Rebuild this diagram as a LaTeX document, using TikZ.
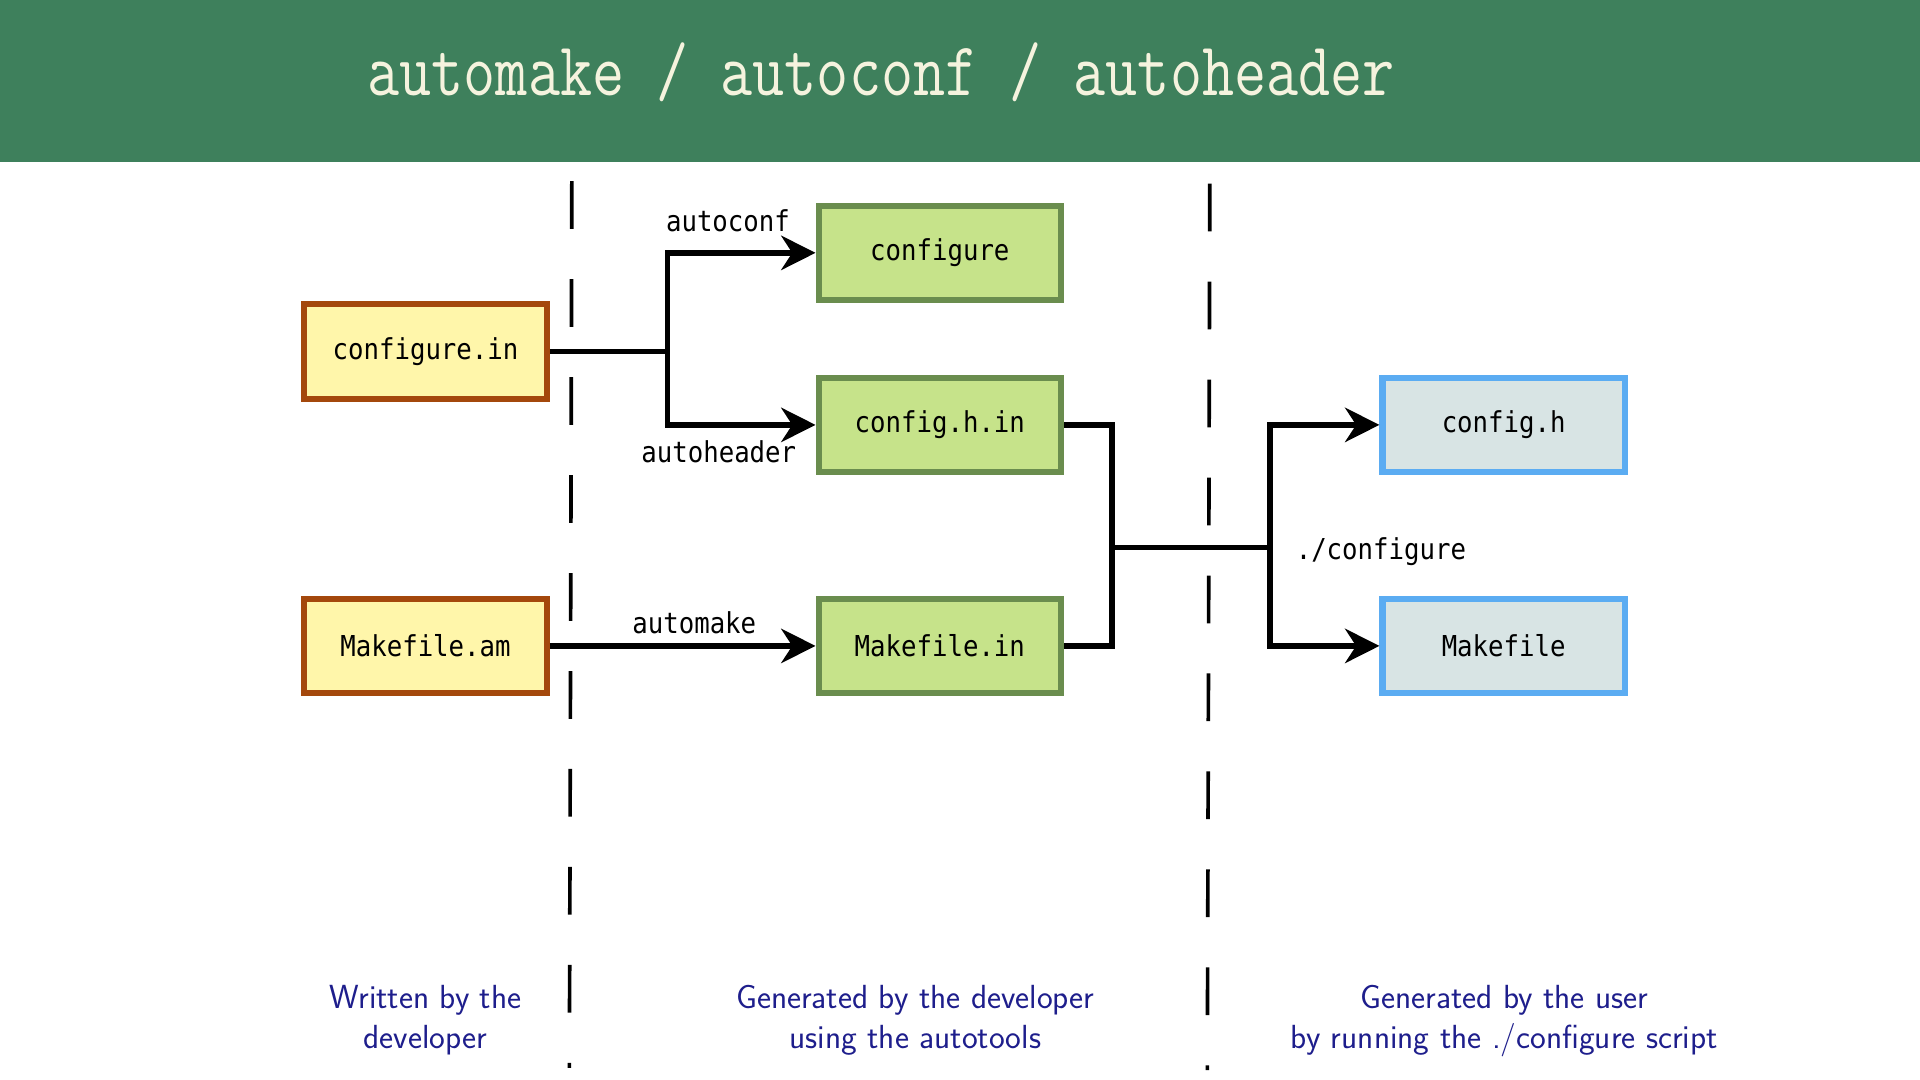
\documentclass[tikz,border=0pt]{standalone}
\usepackage{fontspec}
\usepackage{graphicx}
\newfontfamily\boxfont{DejaVu Sans Mono}
\newcommand{\mono}[1]{\scalebox{1}[1.12]{#1}}
\usetikzlibrary{arrows.meta}
\definecolor{headgreen}{RGB}{62,128,92}
\definecolor{titlecream}{RGB}{245,243,222}
\definecolor{srcfill}{RGB}{255,246,170}
\definecolor{srcdraw}{RGB}{164,72,12}
\definecolor{genfill}{RGB}{198,227,138}
\definecolor{gendraw}{RGB}{106,141,78}
\definecolor{usrfill}{RGB}{216,228,228}
\definecolor{usrdraw}{RGB}{91,172,242}
\definecolor{capblue}{RGB}{30,30,140}
\tikzset{
	file/.style={line width=5pt,minimum width=198pt,minimum height=77pt,inner sep=0pt,font=\boxfont\fontsize{21}{25}\selectfont},
	srcfile/.style={file,draw=srcdraw,fill=srcfill},
	genfile/.style={file,draw=gendraw,fill=genfill},
	usrfile/.style={file,draw=usrdraw,fill=usrfill},
	tool/.style={font=\boxfont\fontsize{21}{25}\selectfont,inner sep=0pt,anchor=base},
	wire/.style={line width=4.6pt},
	flow/.style={wire,-{Stealth[length=28pt,width=28pt,inset=9pt]}},
	border/.style={line width=3pt,dash pattern=on 39pt off 41pt},
	caption/.style={text=capblue,font=\sffamily\fontsize{27.3}{32}\selectfont,align=center,anchor=base,inner sep=0pt}
}
\begin{document}
\begin{tikzpicture}[x=1pt,y=-1pt]
			\useasboundingbox (0,0) rectangle (1568,882);
			\fill[white] (0,0) rectangle (1568,882);
			\fill[headgreen] (0,0) rectangle (1568,132);
			\node[anchor=base west,inner sep=0pt,text=titlecream,font=\ttfamily\fontsize{50.9}{60}\selectfont] (title) at (300,78) {\scalebox{1}[1.22]{automake / autoconf / autoheader}};
			% the two borders between the stages
			\coordinate (leftTop) at (467,148);
			\coordinate (leftBot) at (465,872);
			\coordinate (rightTop) at (988,150);
			\coordinate (rightBot) at (986,874);
			\draw[border] (leftTop) -- (leftBot);
			\draw[border] (rightTop) -- (rightBot);
			% files
			\node[srcfile] (cfgin) at (347.5,287) {\mono{configure.in}};
			\node[srcfile] (mkam) at (347.5,527.5) {\mono{Makefile.am}};
			\node[genfile] (cfg) at (767.5,206.5) {\mono{configure}};
			\node[genfile] (cfghin) at (767.5,347) {\mono{config.h.in}};
			\node[genfile] (mkin) at (767.5,527.5) {\mono{Makefile.in}};
			\node[usrfile] (cfgh) at (1228,347) {\mono{config.h}};
			\node[usrfile] (mk) at (1228,527.5) {\mono{Makefile}};
			% tools
			\coordinate (fork) at (545,287);
			\draw[wire] (cfgin.east) -- (fork);
			\draw[flow] (fork) |- (cfg.west);
			\draw[flow] (fork) |- (cfghin.west);
			\draw[flow] (mkam.east) -- (mkin.west);
			\coordinate (merge) at (908,447);
			\coordinate (spread) at (1037,447);
			\draw[wire] (cfghin.east) -| (merge);
			\draw[wire] (mkin.east) -| (merge);
			\draw[wire] (merge) -- (spread);
			\draw[flow] (spread) |- (cfgh.west);
			\draw[flow] (spread) |- (mk.west);
			\node[tool] (autoconfLabel) at (594.5,189) {\mono{autoconf}};
			\node[tool] (autoheaderLabel) at (587,378) {\mono{autoheader}};
			\node[tool] (automakeLabel) at (567,517) {\mono{automake}};
			\node[tool,anchor=base west] (configureLabel) at (1058,457) {\mono{./configure}};
			% who makes what
			\node[caption] (devCaption) at (347.5,856) {Written by the\\developer};
			\node[caption] (toolCaption) at (747.5,856) {Generated by the developer\\using the autotools};
			\node[caption] (userCaption) at (1228.5,856) {Generated by the user\\by running the ./configure script};
			\end{tikzpicture}
\end{document}
